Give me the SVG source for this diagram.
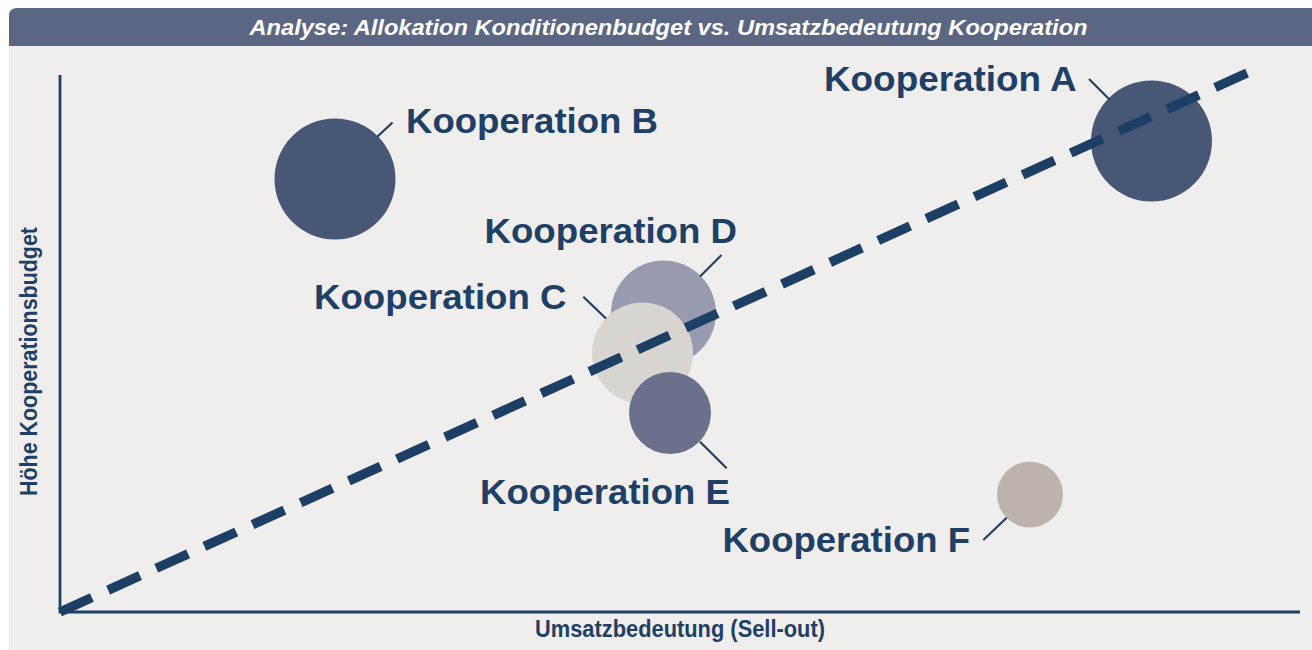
<svg xmlns="http://www.w3.org/2000/svg" width="1312" height="650" viewBox="0 0 1312 650">
<style>
.lbl{font-family:"Liberation Sans",Arial,sans-serif;font-weight:bold;font-size:35px;fill:#1E3F66}
.ax{font-family:"Liberation Sans Narrow","Liberation Sans",Arial,sans-serif;font-weight:bold;font-size:23px;fill:#1E3F66}
.ttl{font-family:"Liberation Sans Narrow","Liberation Sans",Arial,sans-serif;font-weight:bold;font-style:italic;font-size:22px;fill:#FFFFFF}
.lead{stroke:#1E3F66;stroke-width:2.2;fill:none}
.axis{stroke:#1E3F66;stroke-width:2.8;fill:none}
</style>
<rect x="0" y="0" width="1312" height="650" fill="#FFFFFF"/>
<rect x="9" y="46" width="1303" height="604" fill="#EFEEEC"/>
<path d="M9,46 V16 Q9,8 17,8 H1312 V46 Z" fill="#5B6682"/>
<text class="ttl" x="668.5" y="35" text-anchor="middle" textLength="838" lengthAdjust="spacingAndGlyphs">Analyse: Allokation Konditionenbudget vs. Umsatzbedeutung Kooperation</text>

<g id="axes">
<path class="axis" d="M60,75 V612 H1300"/>
<text class="ax" x="680" y="637" text-anchor="middle" textLength="290" lengthAdjust="spacingAndGlyphs">Umsatzbedeutung (Sell-out)</text>
<text class="ax" transform="translate(37,361.5) rotate(-90)" x="0" y="0" text-anchor="middle" textLength="269" lengthAdjust="spacingAndGlyphs">Höhe Kooperationsbudget</text>
</g>

<g id="node-B">
<circle cx="335" cy="179" r="60.5" fill="#475876"/>
<text class="lbl" x="406" y="133" textLength="252" lengthAdjust="spacingAndGlyphs">Kooperation B</text>
</g>
<g id="node-A">
<circle cx="1151.5" cy="141" r="60.5" fill="#475876"/>
<text class="lbl" x="824" y="91" textLength="252.5" lengthAdjust="spacingAndGlyphs">Kooperation A</text>
</g>
<g id="node-D">
<circle cx="663.5" cy="313" r="52.5" fill="#989BAF"/>
<text class="lbl" x="484.5" y="243" textLength="252.5" lengthAdjust="spacingAndGlyphs">Kooperation D</text>
</g>
<g id="node-C">
<circle cx="642.5" cy="353" r="50.5" fill="#D8D4CF"/>
<text class="lbl" x="314" y="309" textLength="252.5" lengthAdjust="spacingAndGlyphs">Kooperation C</text>
</g>
<g id="node-E">
<circle cx="670" cy="413" r="41" fill="#6B718D"/>
<text class="lbl" x="480" y="504" textLength="250" lengthAdjust="spacingAndGlyphs">Kooperation E</text>
</g>
<g id="node-F">
<circle cx="1030" cy="494.5" r="33" fill="#BCB4AC"/>
<text class="lbl" x="722.5" y="551.5" textLength="247.5" lengthAdjust="spacingAndGlyphs">Kooperation F</text>
</g>

<g id="connectors">
<line class="lead" x1="1089" y1="79" x2="1110" y2="100"/>
<line class="lead" x1="377" y1="137" x2="392.5" y2="122.5"/>
<line class="lead" x1="700" y1="276.5" x2="721.5" y2="255"/>
<line class="lead" x1="583.3" y1="296.7" x2="606" y2="318.5"/>
<line class="lead" x1="700" y1="441.7" x2="726.7" y2="468.3"/>
<line class="lead" x1="983.3" y1="540" x2="1006.7" y2="517.7"/>
<line x1="60" y1="612" x2="1247" y2="73" stroke="#1C3F66" stroke-width="9.5" stroke-dasharray="35 17.86" fill="none"/>
</g>
</svg>
